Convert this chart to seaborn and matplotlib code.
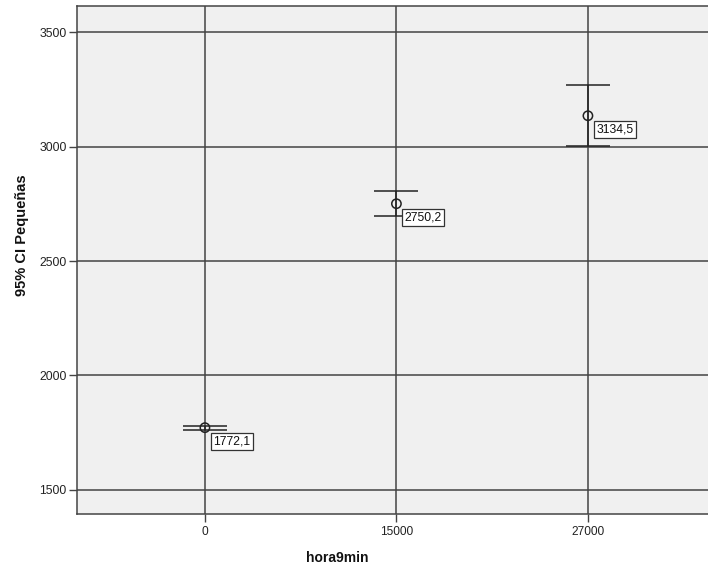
import matplotlib
matplotlib.use("Agg")
import matplotlib.pyplot as plt
import seaborn as sns
import pandas as pd

# Group labels (hora9min) and their means with 95% confidence bounds
categories = ["0", "15000", "27000"]
means = [1772.1, 2750.2, 3134.5]
ci_lower = [1763.0, 2698.0, 3001.0]
ci_upper = [1781.0, 2807.0, 3268.0]
y_ticks = [1500, 2000, 2500, 3000, 3500]

df = pd.DataFrame({
    "pos": range(len(categories)),
    "hora9min": categories,
    "mean": means,
    "lo": ci_lower,
    "hi": ci_upper,
})

sns.set_theme(style="white")
plt.rcParams["font.family"] = ["Liberation Sans", "DejaVu Sans"]

fig = plt.figure(figsize=(7.08, 5.74), dpi=100)
ax = fig.add_axes([77 / 708, 1 - 514 / 574, 1 - 77 / 708, 508.5 / 574])
ax.set_facecolor("#F0F0F0")

grid_col = "#434343"
for y in y_ticks:
    ax.axhline(y, color=grid_col, lw=1.1, zorder=1)
for p in df["pos"]:
    ax.axvline(p, color=grid_col, lw=1.1, zorder=1)

# Confidence interval whiskers
half = 0.115
ax.vlines(df["pos"], df["lo"], df["hi"], color="#222222", lw=1.1, zorder=2)
ax.hlines(df["lo"], df["pos"] - half, df["pos"] + half, color="#222222", lw=1.1, zorder=2)
ax.hlines(df["hi"], df["pos"] - half, df["pos"] + half, color="#222222", lw=1.1, zorder=2)

sns.scatterplot(data=df, x="pos", y="mean", ax=ax, marker="o", s=45,
                facecolor="none", edgecolor="#222222", linewidth=1.1, zorder=3,
                legend=False)

for _, r in df.iterrows():
    ax.annotate(f"{r['mean']:.1f}".replace(".", ","), (r["pos"], r["mean"]),
                xytext=(6, -5.5), textcoords="offset points", ha="left", va="top",
                fontsize=8.7, color="#111111", zorder=4,
                bbox=dict(boxstyle="square,pad=0.2", fc="white", ec="#333333", lw=0.9))

ax.set_xlim(-0.668, 2.627)
ax.set_ylim(1395, 3616)
ax.set_xticks(df["pos"])
ax.set_xticklabels(categories)
ax.set_yticks(y_ticks)

for side in ["top", "left", "bottom"]:
    ax.spines[side].set_color("#444444")
    ax.spines[side].set_linewidth(1.1)
ax.spines["right"].set_visible(False)

ax.tick_params(axis="both", which="major", direction="out", length=6, width=1.0,
               color="#444444", labelcolor="#222222", pad=1.5,
               bottom=True, left=True)
ax.tick_params(axis="x", labelsize=8.6, pad=2.5)
ax.tick_params(axis="y", labelsize=8.8)

ax.set_xlabel("hora9min", fontsize=10, fontweight="bold", color="#111111")
ax.set_ylabel("95% CI Pequeñas", fontsize=10.5, fontweight="bold", color="#111111")
ax.xaxis.set_label_coords(0.413, -0.073)
ax.yaxis.set_label_coords(-0.076, 0.549)

fig.savefig("out.png", dpi=100)
